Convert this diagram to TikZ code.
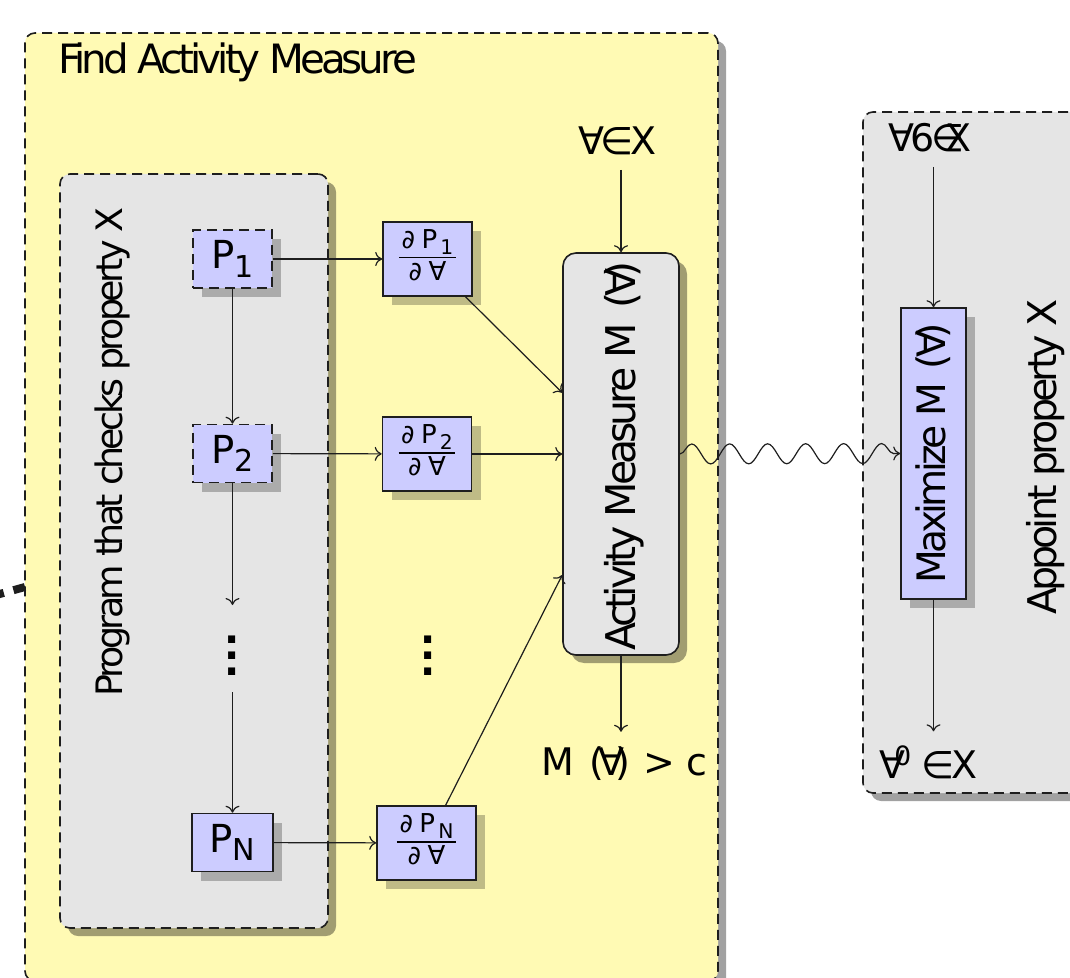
\documentclass[tikz,border=0pt]{standalone}
\usepackage{fontspec}
\setmainfont{DejaVu Sans}[LetterSpace=-10]
\usetikzlibrary{shadows,decorations.pathmorphing,calc,arrows.meta}
\definecolor{ylw}{RGB}{255,250,180}
\definecolor{gry}{RGB}{229,229,229}
\definecolor{blu}{RGB}{204,204,255}
\definecolor{ink}{RGB}{30,30,30}
\newcommand{\lowsub}[1]{\raisebox{-0.22em}{\scalebox{0.78}{#1}}}
\newcommand{\fsz}[1]{\fontsize{#1}{#1}\selectfont}
\newcommand{\pfrac}[2]{\setlength{\arrayrulewidth}{0.8pt}\renewcommand{\arraystretch}{1.0}\begin{tabular}{@{\hspace{0.1em}}c@{\hspace{0.1em}}}#1\\[0.02em]\hline\noalign{\vskip 0.12em}#2\end{tabular}}
\begin{document}
\begin{tikzpicture}[x=0.5pt,y=-0.5pt,
  dashborder/.style={draw=ink, line width=0.8pt, dash pattern=on 5pt off 3pt},
  solidborder/.style={draw=ink, line width=0.8pt},
  bigshadow/.style={drop shadow={shadow xshift=4pt, shadow yshift=-4pt, fill=black, opacity=0.37, draw=none}},
  smallshadow/.style={drop shadow={shadow xshift=4.5pt, shadow yshift=-4.5pt, fill=black, opacity=0.25, draw=none}},
  container/.style={rectangle, rounded corners=5pt, dashborder, bigshadow, inner sep=0pt},
  pbox/.style={rectangle, fill=blu, smallshadow, inner sep=0pt, minimum width=39.5pt, minimum height=29pt, font=\fsz{19.3}},
  fbox/.style={rectangle, fill=blu, solidborder, smallshadow, inner sep=0pt, minimum width=44.5pt, minimum height=37pt},
  fractext/.style={font=\fsz{13}},
  lbl/.style={inner sep=0pt},
  iolbl/.style={inner sep=7pt, font=\fsz{19}},
  arr/.style={draw=ink, line width=0.6pt, -{To[length=3.5pt,width=7pt]}},
  dotsnode/.style={inner sep=0pt, align=center, font=\fontsize{20}{8}\selectfont\bfseries}
]
\useasboundingbox (0,0) rectangle (1070,978);
\fill[white] (0,0) rectangle (1070,978);

% containers
\node[container, fill=ylw, minimum width=346.5pt, minimum height=474pt] (outer) at (371.5,507) {};
\node[lbl, anchor=base west, font=\fsz{20.2}] (title) at (58,74) {Find Activity Measure};
\node[container, fill=gry, minimum width=134pt, minimum height=377pt] (prog) at (194,551) {};
\node[lbl, rotate=90, font=\fsz{18.2}] (proglbl) at (112,452) {Program that checks property X};
\node[container, fill=gry, minimum width=123.5pt, minimum height=340.5pt] (right) at (986.5,452.5) {};
\node[lbl, rotate=90, font=\fsz{19.8}] (applbl) at (1046,457) {Appoint property X};

% incoming thick dashed line
\coordinate (lhit) at (25,587);
\coordinate (lfar) at (-40,605);
\draw[ink, line width=4pt, dash pattern=on 6pt off 5pt] (lhit) -- (lfar);

% P nodes
\node[pbox, dashborder] (P1) at (232.5,259) {P\lowsub{1}};
\node[pbox, dashborder] (P2) at (232.5,453.5) {P\lowsub{2}};
\node[pbox, solidborder, minimum width=40.5pt] (PN) at (232.5,842.5) {P\lowsub{N}};
\coordinate (c1) at (232.5,605);
\coordinate (c2) at (232.5,692);
\node[dotsnode] (d1) at (232.5,656) {.\\.\\.};
\node[dotsnode] (d2) at (428,656) {.\\.\\.};

% fraction nodes
\node[fbox] (F1) at (427.5,259) {};
\node[fbox] (F2) at (427,454) {};
\node[fbox, minimum width=49.5pt] (FN) at (426.5,843) {};
\node[fractext, inner sep=0pt] (F1t) at (F1.center) {\pfrac{∂\hspace{0.25em}P\hspace{0.12em}\lowsub{1}}{∂\hspace{0.25em}∀}};
\node[fractext, inner sep=0pt] (F2t) at (F2.center) {\pfrac{∂\hspace{0.25em}P\hspace{0.12em}\lowsub{2}}{∂\hspace{0.25em}∀}};
\node[fractext, inner sep=0pt] (FNt) at (FN.center) {\pfrac{∂\hspace{0.25em}P\hspace{0.12em}\lowsub{N}}{∂\hspace{0.25em}∀}};

% activity measure
\node[rectangle, rounded corners=6.5pt, fill=gry, solidborder, bigshadow, inner sep=0pt, minimum width=58pt, minimum height=201pt] (act) at (621,454) {};
\node[lbl, rotate=90, font=\fsz{20.5}] (actlbl) at (624,456) {Activity Measure M\hspace{0.35em}(\kern-0.1em∀\kern-0.2em)};
\node[iolbl, anchor=base] (vin) at (617.5,155) {∀∈X};
\node[iolbl, anchor=base] (mout) at (624.5,775) {M\hspace{0.4em}(\kern-0.15em∀\kern-0.25em)\hspace{0.35em}>\hspace{0.3em}c};

% maximize
\node[rectangle, fill=blu, solidborder, smallshadow, inner sep=0pt, minimum width=32.5pt, minimum height=145.5pt] (max) at (933.5,453.5) {};
\node[lbl, rotate=90, font=\fsz{19.6}] (maxlbl) at (933.5,453.5) {Maximize M\hspace{0.35em}(\kern-0.1em∀\kern-0.2em)};
\node[iolbl, anchor=base] (vtop) at (930,152) {∀6∈\kern-0.5emX};
\node[iolbl, anchor=base] (vbot) at (928.5,778) {∀\kern-0.3em\textsuperscript{0}\hspace{0.25em}∈X};

% connectors
\draw[arr] (P1) -- (P2);
\draw[arr] (P2) -- (c1);
\draw[arr] (c2) -- (PN);
\draw[arr] (P1) -- (F1);
\draw[arr] (P2) -- (F2);
\draw[arr] (PN) -- (FN);
\draw[arr] (F1) -- ($(act.north west)!0.348!(act.south west)$);
\draw[arr] (F2) -- (act);
\draw[arr] (FN) -- ($(act.north west)!0.8!(act.south west)$);
\draw[arr] (vin.south -| act.north) -- (act.north);
\draw[arr] (act.south) -- (act.south |- mout.north);
\draw[arr] (vtop.south -| max.north) -- (max.north);
\draw[arr] (max.south) -- (max.south |- vbot.north);
\draw[arr, decorate, decoration={snake, amplitude=5pt, segment length=19pt, post length=1.5pt}] (act.east) -- (max.west);
\end{tikzpicture}
\end{document}
